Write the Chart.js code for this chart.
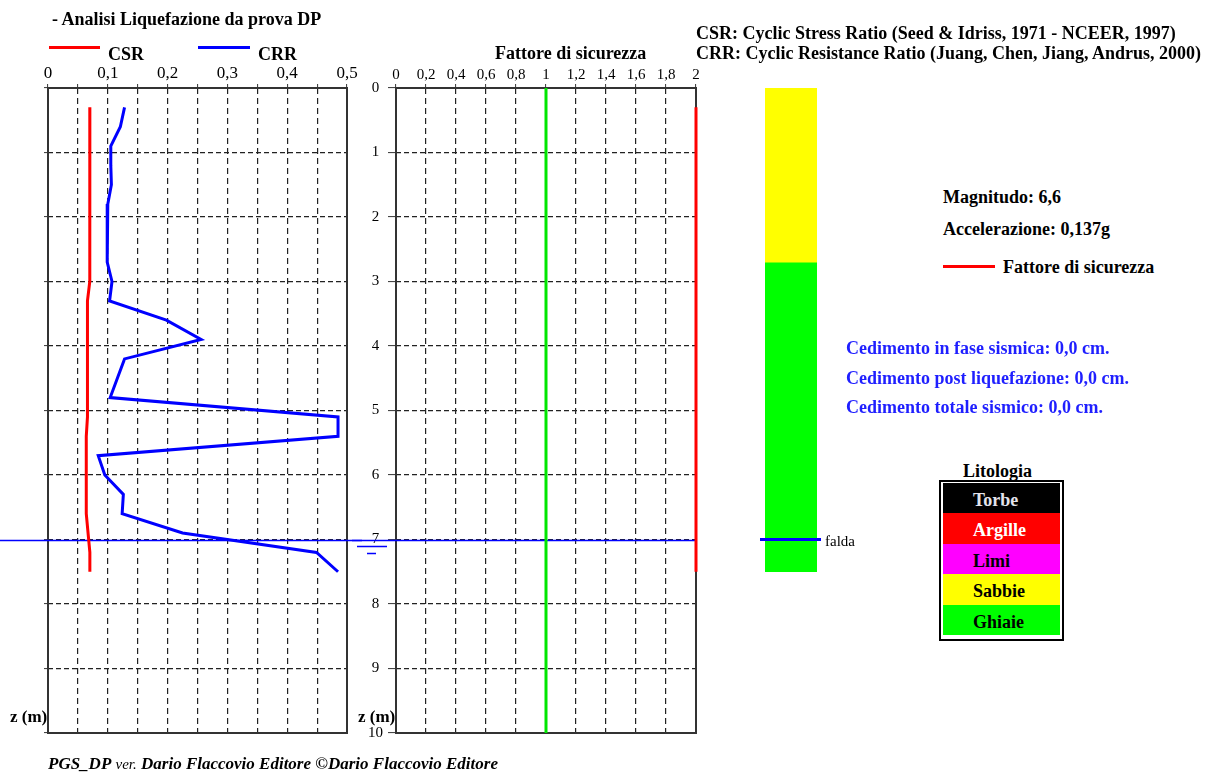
<!DOCTYPE html>
<html>
<head>
<meta charset="utf-8">
<title>Analisi Liquefazione da prova DP</title>
<script src="https://cdn.jsdelivr.net/npm/chart.js@4.4.0/dist/chart.umd.min.js"></script>
<style>
  html, body { margin: 0; padding: 0; background: #fff; }
  #page { position: relative; width: 1213px; height: 774px; overflow: hidden;
          font-family: "Liberation Serif", "Times New Roman", serif; color: #000; }
  #page canvas { position: absolute; top: 0; }
  .t { position: absolute; white-space: nowrap; font-weight: bold; font-size: 18px; line-height: 18px; }
  .sw { position: absolute; height: 3px; }
  .blu { color: #1f1fff; }
  #lito { position: absolute; left: 939px; top: 480px; width: 125px; height: 161px;
          border: 2px solid #000; box-sizing: border-box; padding: 1px 2px; }
  #lito div { height: 30.4px; line-height: 30.4px; padding-left: 30px; box-sizing: border-box;
              font-weight: bold; font-size: 18px; padding-top: 2px; }
  #foot { position: absolute; left: 48px; top: 755px; font-size: 17px; line-height: 17px;
          white-space: nowrap; font-style: italic; }
</style>
</head>
<body>
<div id="page">
  <canvas id="cLiq" width="362" height="774" style="left:0px;width:362px;height:774px"></canvas>
  <canvas id="cFs" width="362" height="774" style="left:352px;width:362px;height:774px"></canvas>
  <canvas id="cStrat" width="110" height="774" style="left:755px;width:110px;height:774px"></canvas>

  <div class="t" style="left:52px;top:10px">- Analisi Liquefazione da prova DP</div>
  <div class="sw" style="left:49px;top:46px;width:51px;background:#ff0000"></div>
  <div class="t" style="left:108px;top:45px">CSR</div>
  <div class="sw" style="left:198px;top:46px;width:52px;background:#0000ff"></div>
  <div class="t" style="left:258px;top:45px">CRR</div>
  <div class="t" style="left:495px;top:44px">Fattore di sicurezza</div>

  <div class="t" style="left:696px;top:24px">CSR: Cyclic Stress Ratio (Seed &amp; Idriss, 1971 - NCEER, 1997)</div>
  <div class="t" style="left:696px;top:44px">CRR: Cyclic Resistance Ratio (Juang, Chen, Jiang, Andrus, 2000)</div>

  <div class="t" id="tMag" style="left:943px;top:188px"></div>
  <div class="t" id="tAcc" style="left:943px;top:220px"></div>
  <div class="sw" style="left:943px;top:265px;width:52px;background:#ff0000"></div>
  <div class="t" style="left:1003px;top:258px">Fattore di sicurezza</div>

  <div class="t blu" id="tCed0" style="left:846px;top:339px"></div>
  <div class="t blu" id="tCed1" style="left:846px;top:369px"></div>
  <div class="t blu" id="tCed2" style="left:846px;top:398px"></div>

  <div class="t" style="left:963px;top:462px">Litologia</div>
  <div id="lito"></div>

  <div class="t" style="left:10px;top:708px;font-size:17px;line-height:17px">z (m)</div>
  <div class="t" style="left:358px;top:708px;font-size:17px;line-height:17px">z (m)</div>

  <div id="foot"><b>PGS_DP</b> <span style="font-size:15px">ver.</span> <b>Dario Flaccovio Editore ©Dario Flaccovio Editore</b></div>
</div>

<script>
// Profondità delle letture della prova DP (m)
const depth = [0.3, 0.6, 0.9, 1.2, 1.5, 1.8, 2.1, 2.4, 2.7, 3.0, 3.3, 3.6, 3.9,
               4.2, 4.5, 4.8, 5.1, 5.4, 5.7, 6.0, 6.3, 6.6, 6.9, 7.2, 7.5];
// Cyclic Stress Ratio
const csr = [0.070, 0.070, 0.070, 0.070, 0.070, 0.070, 0.070, 0.070, 0.070, 0.069, 0.066, 0.066, 0.066,
             0.066, 0.066, 0.066, 0.066, 0.064, 0.064, 0.064, 0.064, 0.064, 0.067, 0.070, 0.070];
// Cyclic Resistance Ratio
const crr = [0.128, 0.121, 0.105, 0.105, 0.106, 0.100, 0.099, 0.099, 0.099, 0.107, 0.103, 0.198, 0.256,
             0.128, 0.116, 0.104, 0.485, 0.485, 0.084, 0.095, 0.126, 0.124, 0.225, 0.449, 0.485];
// Fattore di sicurezza (limitato a 2)
const fs = [2, 2, 2, 2, 2, 2, 2, 2, 2, 2, 2, 2, 2,
            2, 2, 2, 2, 2, 2, 2, 2, 2, 2, 2, 2];
// Soglia FS = 1
const fsLimitDepth = [0, 10];
const fsLimit = [1, 1];
// Livello di falda (m)
const falda = 7;
// Stratigrafia
const layerTop = [0, 2.7];
const layerBottom = [2.7, 7.5];
const layerName = ['Sabbie', 'Ghiaie'];
// Classi litologiche in legenda
const litoClasses = ['Torbe', 'Argille', 'Limi', 'Sabbie', 'Ghiaie'];
// Parametri sismici e cedimenti
const magnitudo = '6,6';
const accelerazione = '0,137g';
const cedimentiLabel = ['Cedimento in fase sismica', 'Cedimento post liquefazione', 'Cedimento totale sismico'];
const cedimentiCm = ['0,0', '0,0', '0,0'];

const litoColor = { Torbe: '#000000', Argille: '#ff0000', Limi: '#ff00ff', Sabbie: '#ffff00', Ghiaie: '#00ff00' };
const litoText  = { Torbe: '#e4e4ec', Argille: '#ffffff', Limi: '#000000', Sabbie: '#000000', Ghiaie: '#000000' };

// testi informativi
document.getElementById('tMag').textContent = 'Magnitudo: ' + magnitudo;
document.getElementById('tAcc').textContent = 'Accelerazione: ' + accelerazione;
cedimentiLabel.forEach((l, i) => {
  document.getElementById('tCed' + i).textContent = l + ': ' + cedimentiCm[i] + ' cm.';
});
const lito = document.getElementById('lito');
litoClasses.forEach(n => {
  const d = document.createElement('div');
  d.textContent = n;
  d.style.background = litoColor[n];
  d.style.color = litoText[n];
  lito.appendChild(d);
});

Chart.defaults.font.family = '"Liberation Serif", "Times New Roman", serif';
Chart.defaults.color = '#000';

const FONT_SERIF = '"Liberation Serif", "Times New Roman", serif';
const GRID_COLOR = '#222';

// cornice del grafico
const framePlugin = {
  id: 'frame',
  beforeDatasetsDraw(chart) {
    const a = chart.chartArea, ctx = chart.ctx;
    ctx.save();
    ctx.strokeStyle = '#333';
    ctx.lineWidth = 2;
    ctx.strokeRect(a.left, a.top, a.right - a.left, a.bottom - a.top);
    ctx.restore();
  }
};

// linea di falda sul profilo CSR/CRR
const faldaLiq = {
  id: 'faldaLiq',
  beforeDatasetsDraw(chart) {
    const y = Math.round(chart.scales.y.getPixelForValue(falda)) + 0.5;
    const ctx = chart.ctx;
    ctx.save();
    ctx.strokeStyle = '#0000ff';
    ctx.lineWidth = 1.5;
    ctx.beginPath();
    ctx.moveTo(0, y);
    ctx.lineTo(chart.width, y);
    ctx.stroke();
    ctx.restore();
  }
};

// linea di falda e simbolo sul grafico FS
const faldaFs = {
  id: 'faldaFs',
  beforeDatasetsDraw(chart) {
    const y = Math.round(chart.scales.y.getPixelForValue(falda)) + 0.5;
    const ctx = chart.ctx;
    ctx.save();
    ctx.strokeStyle = '#0000ff';
    ctx.lineWidth = 1.5;
    ctx.beginPath();
    ctx.moveTo(0, y);
    ctx.lineTo(chart.chartArea.right, y);
    ctx.moveTo(5, y + 6);
    ctx.lineTo(35, y + 6);
    ctx.moveTo(15, y + 13);
    ctx.lineTo(24, y + 13);
    ctx.stroke();
    ctx.restore();
  }
};

// falda sulla colonna stratigrafica
const faldaStrat = {
  id: 'faldaStrat',
  afterDatasetsDraw(chart) {
    const y = chart.scales.y.getPixelForValue(falda);
    const ctx = chart.ctx;
    ctx.save();
    ctx.strokeStyle = '#0000ff';
    ctx.lineWidth = 3;
    ctx.beginPath();
    ctx.moveTo(5, y);
    ctx.lineTo(66, y);
    ctx.stroke();
    ctx.fillStyle = '#000';
    ctx.font = '15px ' + FONT_SERIF;
    ctx.textBaseline = 'alphabetic';
    ctx.fillText('falda', 70, y + 6);
    ctx.restore();
  }
};

const pts = (xs, ys) => xs.map((v, i) => ({ x: v, y: ys[i] }));

const depthAxis = (labels) => ({
  type: 'linear',
  position: 'left',
  reverse: true,
  min: 0,
  max: 10,
  ticks: {
    display: labels,
    stepSize: 1,
    maxTicksLimit: 50,
    autoSkip: false,
    crossAlign: 'center',
    padding: 5,
    font: { size: 15, family: FONT_SERIF },
    color: '#000'
  },
  grid: { color: GRID_COLOR, lineWidth: 1.2, tickLength: labels ? 8 : 4, tickColor: '#333', tickWidth: 1 },
  border: { display: false, dash: [5, 3] },
  afterFit(s) { s.width = labels ? 44 : 48; }
});

// Profilo CSR / CRR
new Chart(document.getElementById('cLiq'), {
  type: 'scatter',
  data: {
    datasets: [
      { label: 'CSR', data: pts(csr, depth), showLine: true, borderColor: '#ff0000', backgroundColor: '#ff0000',
        borderWidth: 3, pointRadius: 0, tension: 0 },
      { label: 'CRR', data: pts(crr, depth), showLine: true, borderColor: '#0000ff', backgroundColor: '#0000ff',
        borderWidth: 3, pointRadius: 0, tension: 0 }
    ]
  },
  options: {
    responsive: false,
    animation: false,
    devicePixelRatio: 1,
    layout: { padding: { left: 0, right: 15, top: 0, bottom: 41 } },
    plugins: { legend: { display: false }, tooltip: { enabled: false } },
    scales: {
      x: {
        type: 'linear',
        position: 'top',
        min: 0,
        max: 0.5,
        ticks: {
          stepSize: 0.05,
          maxTicksLimit: 50,
          autoSkip: false,
          maxRotation: 0,
          minRotation: 0,
          padding: 0,
          font: { size: 17, family: FONT_SERIF },
          color: '#000',
          callback(v) {
            const k = Math.round(v * 100);
            if (k % 10 !== 0) return '';
            return k === 0 ? '0' : String(k / 100).replace('.', ',');
          }
        },
        grid: { color: GRID_COLOR, lineWidth: 1.2, tickLength: 4, tickColor: '#333', tickWidth: 1 },
        border: { display: false, dash: [6, 4] },
        afterFit(s) { s.height = 88; }
      },
      y: depthAxis(false)
    }
  },
  plugins: [framePlugin, faldaLiq]
});

// Fattore di sicurezza
new Chart(document.getElementById('cFs'), {
  type: 'scatter',
  data: {
    datasets: [
      { label: 'FS = 1', data: pts(fsLimit, fsLimitDepth), showLine: true, borderColor: '#00e600',
        borderWidth: 3, pointRadius: 0 },
      { label: 'Fattore di sicurezza', data: pts(fs, depth), showLine: true, borderColor: '#ff0000',
        borderWidth: 3, pointRadius: 0, clip: false }
    ]
  },
  options: {
    responsive: false,
    animation: false,
    devicePixelRatio: 1,
    layout: { padding: { left: 0, right: 18, top: 0, bottom: 41 } },
    plugins: { legend: { display: false }, tooltip: { enabled: false } },
    scales: {
      x: {
        type: 'linear',
        position: 'top',
        min: 0,
        max: 2,
        ticks: {
          stepSize: 0.2,
          maxTicksLimit: 50,
          autoSkip: false,
          maxRotation: 0,
          minRotation: 0,
          padding: 0,
          font: { size: 15, family: FONT_SERIF },
          color: '#000',
          callback(v) {
            return String(Math.round(v * 10) / 10).replace('.', ',');
          }
        },
        grid: { color: GRID_COLOR, lineWidth: 1.2, tickLength: 4, tickColor: '#333', tickWidth: 1 },
        border: { display: false, dash: [6, 4] },
        afterFit(s) { s.height = 88; }
      },
      y: depthAxis(true)
    }
  },
  plugins: [framePlugin, faldaFs]
});

// Colonna stratigrafica
new Chart(document.getElementById('cStrat'), {
  type: 'bar',
  data: {
    labels: ['Stratigrafia'],
    datasets: layerName.map((n, i) => ({
      label: n,
      data: [[layerTop[i], layerBottom[i]]],
      backgroundColor: litoColor[n],
      borderWidth: 0,
      barPercentage: 1,
      categoryPercentage: 1,
      grouped: false
    }))
  },
  options: {
    responsive: false,
    animation: false,
    devicePixelRatio: 1,
    layout: { padding: { left: 10, right: 48, top: 88, bottom: 41 } },
    plugins: { legend: { display: false }, tooltip: { enabled: false } },
    scales: {
      x: { display: false },
      y: { display: false, min: 0, max: 10, reverse: true }
    }
  },
  plugins: [faldaStrat]
});
</script>
</body>
</html>
